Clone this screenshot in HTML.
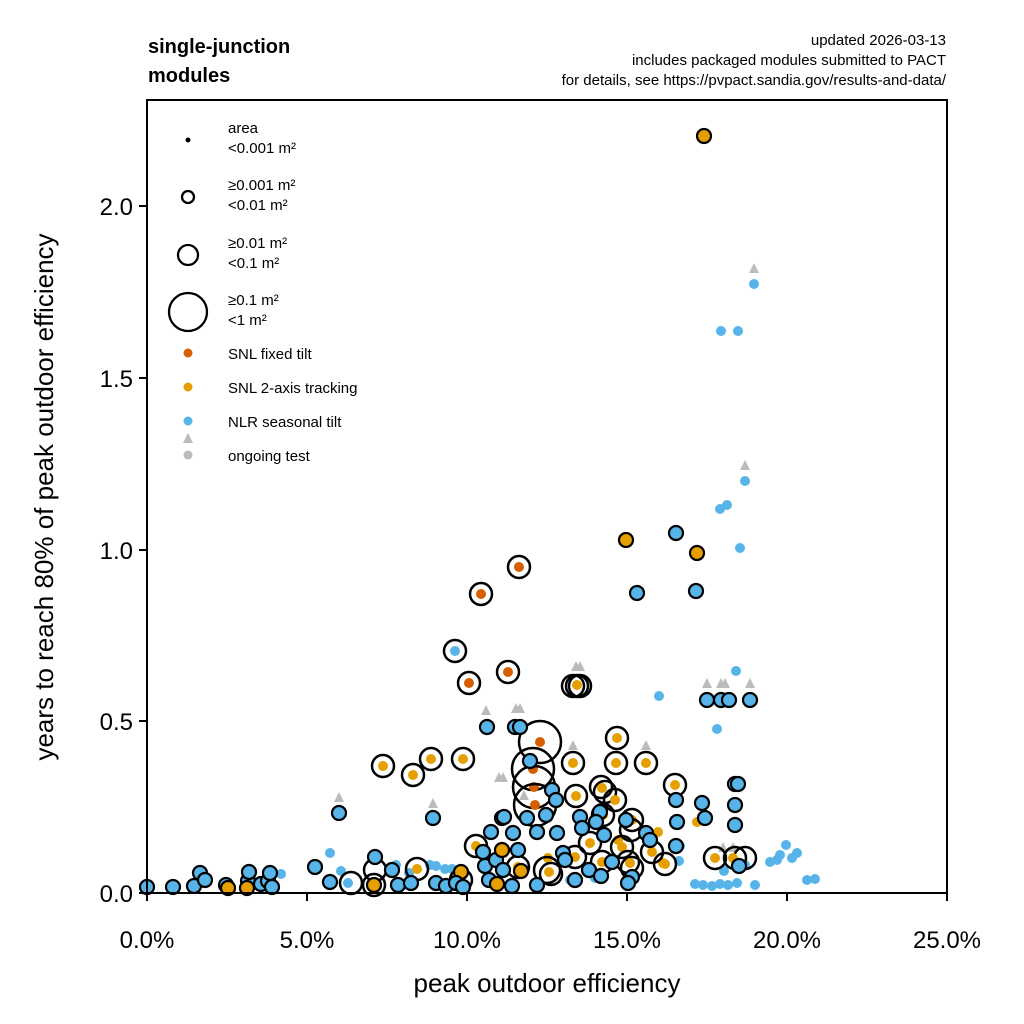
<!DOCTYPE html>
<html><head><meta charset="utf-8"><style>
body{margin:0;background:#fff}
svg{display:block;font-family:"Liberation Sans",sans-serif}
.b{fill:#56B4E9;stroke:#000;stroke-width:2.2}
.o{fill:#E69F00;stroke:#000;stroke-width:2.2}
.pb{fill:#56B4E9}
.po{fill:#E69F00}
.pv{fill:#D55E00}
.r{fill:none;stroke:#000;stroke-width:2.5}
.g{fill:#bbb}
</style></head><body>
<svg width="1024" height="1024" viewBox="0 0 1024 1024">
<rect width="1024" height="1024" fill="#fff"/>
<text x="148" y="53" font-size="20" font-weight="bold">single-junction</text>
<text x="148" y="82" font-size="20" font-weight="bold">modules</text>
<text x="946" y="45" font-size="15" text-anchor="end">updated 2026-03-13</text>
<text x="946" y="65" font-size="15" text-anchor="end">includes packaged modules submitted to PACT</text>
<text x="946" y="85" font-size="15" text-anchor="end">for details, see https://pvpact.sandia.gov/results-and-data/</text>

<g id="pts">
<g class="g">
<path d="M334,802 l5,-10 l5,10z"/><path d="M428,808 l5,-10 l5,10z"/>
<path d="M481,715 l5,-10 l5,10z"/><path d="M511,713 l5,-10 l5,10z"/><path d="M515,713 l5,-10 l5,10z"/>
<path d="M571,671 l5,-10 l5,10z"/><path d="M575,671 l5,-10 l5,10z"/>
<path d="M702,688 l5,-10 l5,10z"/><path d="M716,688 l5,-10 l5,10z"/><path d="M720,688 l5,-10 l5,10z"/><path d="M745,688 l5,-10 l5,10z"/>
<path d="M749,273 l5,-10 l5,10z"/><path d="M740,470 l5,-10 l5,10z"/>
<path d="M568,750 l5,-10 l5,10z"/><path d="M641,750 l5,-10 l5,10z"/><path d="M494,782 l5,-10 l5,10z"/><path d="M498,782 l5,-10 l5,10z"/>
<path d="M519,800 l5,-10 l5,10z"/><path d="M718,852 l5,-10 l5,10z"/><path d="M728,852 l5,-10 l5,10z"/>
</g>
<circle class="pb" cx="281" cy="874" r="5"/><circle class="pb" cx="330" cy="853" r="5"/><circle class="pb" cx="341" cy="871" r="5"/><circle class="pb" cx="348" cy="883" r="5"/>
<circle class="pb" cx="396" cy="865" r="5"/><circle class="pb" cx="409" cy="873" r="5"/><circle class="pb" cx="430" cy="865" r="5"/><circle class="pb" cx="436" cy="866" r="5"/><circle class="pb" cx="445" cy="869" r="5"/><circle class="pb" cx="452" cy="869" r="5"/>
<circle class="pb" cx="720" cy="509" r="5"/><circle class="pb" cx="727" cy="505" r="5"/><circle class="pb" cx="740" cy="548" r="5"/><circle class="pb" cx="736" cy="671" r="5"/><circle class="pb" cx="659" cy="696" r="5"/><circle class="pb" cx="717" cy="729" r="5"/>
<circle class="pb" cx="745" cy="481" r="5"/><circle class="pb" cx="721" cy="331" r="5"/><circle class="pb" cx="738" cy="331" r="5"/><circle class="pb" cx="754" cy="284" r="5"/><circle class="pb" cx="455" cy="651" r="5"/>
<circle class="pb" cx="780" cy="855" r="5"/><circle class="pb" cx="786" cy="845" r="5"/><circle class="pb" cx="770" cy="862" r="5"/><circle class="pb" cx="777" cy="860" r="5"/><circle class="pb" cx="792" cy="858" r="5"/><circle class="pb" cx="797" cy="853" r="5"/>
<circle class="pb" cx="807" cy="880" r="5"/><circle class="pb" cx="815" cy="879" r="5"/><circle class="pb" cx="695" cy="884" r="5"/><circle class="pb" cx="703" cy="885" r="5"/><circle class="pb" cx="712" cy="886" r="5"/><circle class="pb" cx="720" cy="884" r="5"/><circle class="pb" cx="728" cy="885" r="5"/><circle class="pb" cx="737" cy="883" r="5"/><circle class="pb" cx="755" cy="885" r="5"/>
<circle class="pb" cx="680" cy="846" r="5"/><circle class="pb" cx="679" cy="861" r="5"/><circle class="pb" cx="724" cy="871" r="5"/><circle class="pb" cx="745" cy="865" r="5"/><circle class="pb" cx="595" cy="878" r="5"/><circle class="pb" cx="570" cy="880" r="5"/>
<circle class="po" cx="658" cy="832" r="5"/><circle class="po" cx="697" cy="822" r="5"/><circle class="po" cx="663" cy="863" r="5"/><circle class="po" cx="618" cy="840" r="5"/><circle class="po" cx="548" cy="858" r="5"/>
<circle class="r" cx="383" cy="766" r="11"/><circle class="po" cx="383" cy="766" r="5"/>
<circle class="r" cx="413" cy="775" r="11"/><circle class="po" cx="413" cy="775" r="5"/>
<circle class="r" cx="431" cy="759" r="11"/><circle class="po" cx="431" cy="759" r="5"/>
<circle class="r" cx="463" cy="759" r="11"/><circle class="po" cx="463" cy="759" r="5"/>
<circle class="r" cx="469" cy="683" r="11"/><circle class="pv" cx="469" cy="683" r="5"/>
<circle class="r" cx="508" cy="672" r="11"/><circle class="pv" cx="508" cy="672" r="5"/>
<circle class="r" cx="481" cy="594" r="11"/><circle class="pv" cx="481" cy="594" r="5"/>
<circle class="r" cx="519" cy="567" r="11"/><circle class="pv" cx="519" cy="567" r="5"/>
<circle class="r" cx="455" cy="651" r="11"/>
<circle class="r" cx="577" cy="686" r="11"/><circle class="r" cx="573" cy="686" r="11"/><circle class="r" cx="580" cy="686" r="11"/><circle class="po" cx="577" cy="685" r="5"/>
<circle class="r" cx="540" cy="742" r="21"/><circle class="pv" cx="540" cy="742" r="5"/>
<circle class="r" cx="533" cy="769" r="21"/><circle class="pv" cx="533" cy="769" r="5"/>
<circle class="r" cx="534" cy="787" r="21"/><circle class="pv" cx="534" cy="787" r="5"/>
<circle class="r" cx="535" cy="805" r="21"/><circle class="pv" cx="535" cy="805" r="5"/>
<circle class="r" cx="573" cy="763" r="11"/><circle class="po" cx="573" cy="763" r="5"/>
<circle class="r" cx="616" cy="763" r="11"/><circle class="po" cx="616" cy="763" r="5"/>
<circle class="r" cx="617" cy="738" r="11"/><circle class="po" cx="617" cy="738" r="5"/>
<circle class="r" cx="646" cy="763" r="11"/><circle class="po" cx="646" cy="763" r="5"/>
<circle class="r" cx="675" cy="785" r="11"/><circle class="po" cx="675" cy="785" r="5"/>
<circle class="r" cx="601" cy="787" r="11"/><circle class="r" cx="605" cy="792" r="11"/><circle class="po" cx="602" cy="788" r="5"/>
<circle class="r" cx="615" cy="800" r="11"/><circle class="po" cx="615" cy="800" r="5"/>
<circle class="r" cx="603" cy="815" r="11"/><circle class="po" cx="603" cy="815" r="5"/>
<circle class="r" cx="632" cy="820" r="11"/><circle class="po" cx="632" cy="820" r="5"/>
<circle class="r" cx="631" cy="830" r="11"/>
<circle class="r" cx="576" cy="796" r="11"/><circle class="po" cx="576" cy="796" r="5"/>
<circle class="r" cx="476" cy="846" r="11"/><circle class="po" cx="476" cy="846" r="5"/>
<circle class="r" cx="518" cy="867" r="11"/><circle class="po" cx="518" cy="867" r="5"/>
<circle class="r" cx="547" cy="870" r="13"/><circle class="r" cx="551" cy="874" r="11"/><circle class="po" cx="549" cy="872" r="5"/>
<circle class="r" cx="590" cy="843" r="11"/><circle class="po" cx="590" cy="843" r="5"/>
<circle class="r" cx="622" cy="847" r="11"/><circle class="po" cx="622" cy="847" r="5"/>
<circle class="r" cx="628" cy="862" r="11"/><circle class="r" cx="632" cy="868" r="11"/><circle class="po" cx="630" cy="863" r="5"/>
<circle class="r" cx="652" cy="852" r="11"/><circle class="po" cx="652" cy="852" r="5"/>
<circle class="r" cx="665" cy="864" r="11"/><circle class="po" cx="665" cy="864" r="5"/>
<circle class="r" cx="602" cy="862" r="11"/><circle class="po" cx="602" cy="862" r="5"/>
<circle class="r" cx="575" cy="857" r="11"/><circle class="po" cx="575" cy="857" r="5"/>
<circle class="r" cx="745" cy="858" r="11"/><circle class="r" cx="735" cy="858" r="11"/><circle class="po" cx="733" cy="858" r="5"/>
<circle class="r" cx="715" cy="858" r="11"/><circle class="po" cx="715" cy="858" r="5"/>
<circle class="r" cx="417" cy="869" r="11"/><circle class="po" cx="417" cy="869" r="5"/>
<circle class="r" cx="351" cy="883" r="11"/>
<circle class="r" cx="375" cy="870" r="11"/>
<circle class="r" cx="374" cy="885" r="11"/>
<circle class="r" cx="461" cy="880" r="11"/>
<circle class="o" cx="704" cy="136" r="7"/><circle class="o" cx="626" cy="540" r="7"/><circle class="o" cx="697" cy="553" r="7"/>
<circle class="b" cx="676" cy="533" r="7"/><circle class="b" cx="637" cy="593" r="7"/><circle class="b" cx="696" cy="591" r="7"/>
<circle class="b" cx="707" cy="700" r="7"/><circle class="b" cx="721" cy="700" r="7"/><circle class="b" cx="729" cy="700" r="7"/><circle class="b" cx="750" cy="700" r="7"/>
<circle class="b" cx="487" cy="727" r="7"/><circle class="b" cx="515" cy="727" r="7"/><circle class="b" cx="520" cy="727" r="7"/>
<circle class="b" cx="339" cy="813" r="7"/><circle class="b" cx="433" cy="818" r="7"/>
<circle class="b" cx="735" cy="784" r="7"/><circle class="b" cx="738" cy="784" r="7"/><circle class="b" cx="735" cy="805" r="7"/><circle class="b" cx="735" cy="825" r="7"/><circle class="b" cx="739" cy="866" r="7"/>
<circle class="b" cx="702" cy="803" r="7"/><circle class="b" cx="705" cy="818" r="7"/><circle class="b" cx="676" cy="800" r="7"/><circle class="b" cx="677" cy="822" r="7"/><circle class="b" cx="676" cy="846" r="7"/>
<circle class="b" cx="646" cy="833" r="7"/><circle class="b" cx="600" cy="812" r="7"/><circle class="b" cx="596" cy="822" r="7"/><circle class="b" cx="580" cy="817" r="7"/>
<circle class="b" cx="530" cy="761" r="7"/><circle class="b" cx="552" cy="790" r="7"/><circle class="b" cx="556" cy="800" r="7"/><circle class="b" cx="546" cy="815" r="7"/><circle class="b" cx="527" cy="818" r="7"/><circle class="b" cx="502" cy="818" r="7"/><circle class="b" cx="504" cy="817" r="7"/>
<circle class="b" cx="491" cy="832" r="7"/><circle class="b" cx="483" cy="852" r="7"/><circle class="b" cx="485" cy="866" r="7"/><circle class="b" cx="489" cy="880" r="7"/><circle class="b" cx="496" cy="860" r="7"/><circle class="b" cx="503" cy="870" r="7"/>
<circle class="b" cx="513" cy="833" r="7"/><circle class="b" cx="518" cy="850" r="7"/><circle class="b" cx="537" cy="832" r="7"/><circle class="b" cx="557" cy="833" r="7"/><circle class="b" cx="563" cy="853" r="7"/><circle class="b" cx="565" cy="860" r="7"/>
<circle class="b" cx="582" cy="828" r="7"/><circle class="b" cx="589" cy="870" r="7"/><circle class="b" cx="612" cy="862" r="7"/><circle class="b" cx="604" cy="835" r="7"/><circle class="b" cx="626" cy="820" r="7"/><circle class="b" cx="650" cy="840" r="7"/>
<circle class="b" cx="601" cy="876" r="7"/><circle class="b" cx="632" cy="877" r="7"/><circle class="b" cx="512" cy="886" r="7"/><circle class="b" cx="537" cy="885" r="7"/><circle class="b" cx="575" cy="880" r="7"/><circle class="b" cx="628" cy="883" r="7"/>
<circle class="o" cx="502" cy="850" r="7"/><circle class="o" cx="521" cy="871" r="7"/><circle class="o" cx="461" cy="872" r="7"/><circle class="o" cx="497" cy="884" r="7"/>
<circle class="b" cx="147" cy="887" r="7"/><circle class="b" cx="173" cy="887" r="7"/><circle class="b" cx="194" cy="886" r="7"/><circle class="b" cx="200" cy="873" r="7"/><circle class="b" cx="205" cy="880" r="7"/>
<circle class="b" cx="226" cy="885" r="7"/><circle class="b" cx="248" cy="881" r="7"/><circle class="b" cx="249" cy="872" r="7"/><circle class="b" cx="261" cy="884" r="7"/><circle class="b" cx="268" cy="881" r="7"/><circle class="b" cx="270" cy="873" r="7"/><circle class="b" cx="272" cy="887" r="7"/>
<circle class="o" cx="228" cy="888" r="7"/><circle class="o" cx="247" cy="888" r="7"/>
<circle class="b" cx="315" cy="867" r="7"/><circle class="b" cx="330" cy="882" r="7"/><circle class="b" cx="375" cy="857" r="7"/><circle class="b" cx="392" cy="870" r="7"/><circle class="b" cx="398" cy="885" r="7"/><circle class="b" cx="411" cy="883" r="7"/>
<circle class="b" cx="436" cy="883" r="7"/><circle class="b" cx="446" cy="886" r="7"/><circle class="b" cx="456" cy="883" r="7"/><circle class="b" cx="463" cy="887" r="7"/><circle class="o" cx="374" cy="885" r="7"/>
</g>

<circle cx="188" cy="140" r="2.5" fill="#000"/>
<circle cx="188" cy="197" r="6" fill="none" stroke="#000" stroke-width="2.3"/>
<circle cx="188" cy="255" r="10" fill="none" stroke="#000" stroke-width="2.3"/>
<circle cx="188" cy="312" r="19" fill="none" stroke="#000" stroke-width="2.3"/>
<circle cx="188" cy="353" r="4.5" fill="#D55E00"/>
<circle cx="188" cy="387" r="4.5" fill="#E69F00"/>
<circle cx="188" cy="421" r="4.5" fill="#56B4E9"/>
<path d="M183,443 l5,-10 l5,10z" fill="#bbb"/>
<circle cx="188" cy="455" r="4.5" fill="#bbb"/>
<g font-size="15">
<text x="228" y="133">area</text><text x="228" y="153">&lt;0.001 m²</text>
<text x="228" y="190">≥0.001 m²</text><text x="228" y="210">&lt;0.01 m²</text>
<text x="228" y="248">≥0.01 m²</text><text x="228" y="268">&lt;0.1 m²</text>
<text x="228" y="305">≥0.1 m²</text><text x="228" y="325">&lt;1 m²</text>
<text x="228" y="359">SNL fixed tilt</text>
<text x="228" y="393">SNL 2-axis tracking</text>
<text x="228" y="427">NLR seasonal tilt</text>
<text x="228" y="461">ongoing test</text>
</g>

<rect x="147" y="100" width="800" height="793" fill="none" stroke="#000" stroke-width="2"/>
<g stroke="#000" stroke-width="2">
<line x1="147" y1="893" x2="147" y2="901"/><line x1="307" y1="893" x2="307" y2="901"/><line x1="467" y1="893" x2="467" y2="901"/><line x1="627" y1="893" x2="627" y2="901"/><line x1="787" y1="893" x2="787" y2="901"/><line x1="947" y1="893" x2="947" y2="901"/>
<line x1="139" y1="893" x2="147" y2="893"/><line x1="139" y1="721" x2="147" y2="721"/><line x1="139" y1="550" x2="147" y2="550"/><line x1="139" y1="378" x2="147" y2="378"/><line x1="139" y1="206" x2="147" y2="206"/>
</g>
<g font-size="24" text-anchor="middle">
<text x="147" y="948">0.0%</text><text x="307" y="948">5.0%</text><text x="467" y="948">10.0%</text><text x="627" y="948">15.0%</text><text x="787" y="948">20.0%</text><text x="947" y="948">25.0%</text>
</g>
<g font-size="24" text-anchor="end">
<text x="133" y="902">0.0</text><text x="133" y="730">0.5</text><text x="133" y="559">1.0</text><text x="133" y="387">1.5</text><text x="133" y="215">2.0</text>
</g>
<text x="547" y="992" font-size="26" text-anchor="middle">peak outdoor efficiency</text>
<text transform="translate(53,497) rotate(-90)" font-size="26" text-anchor="middle">years to reach 80% of peak outdoor efficiency</text>
</svg>
</body></html>
